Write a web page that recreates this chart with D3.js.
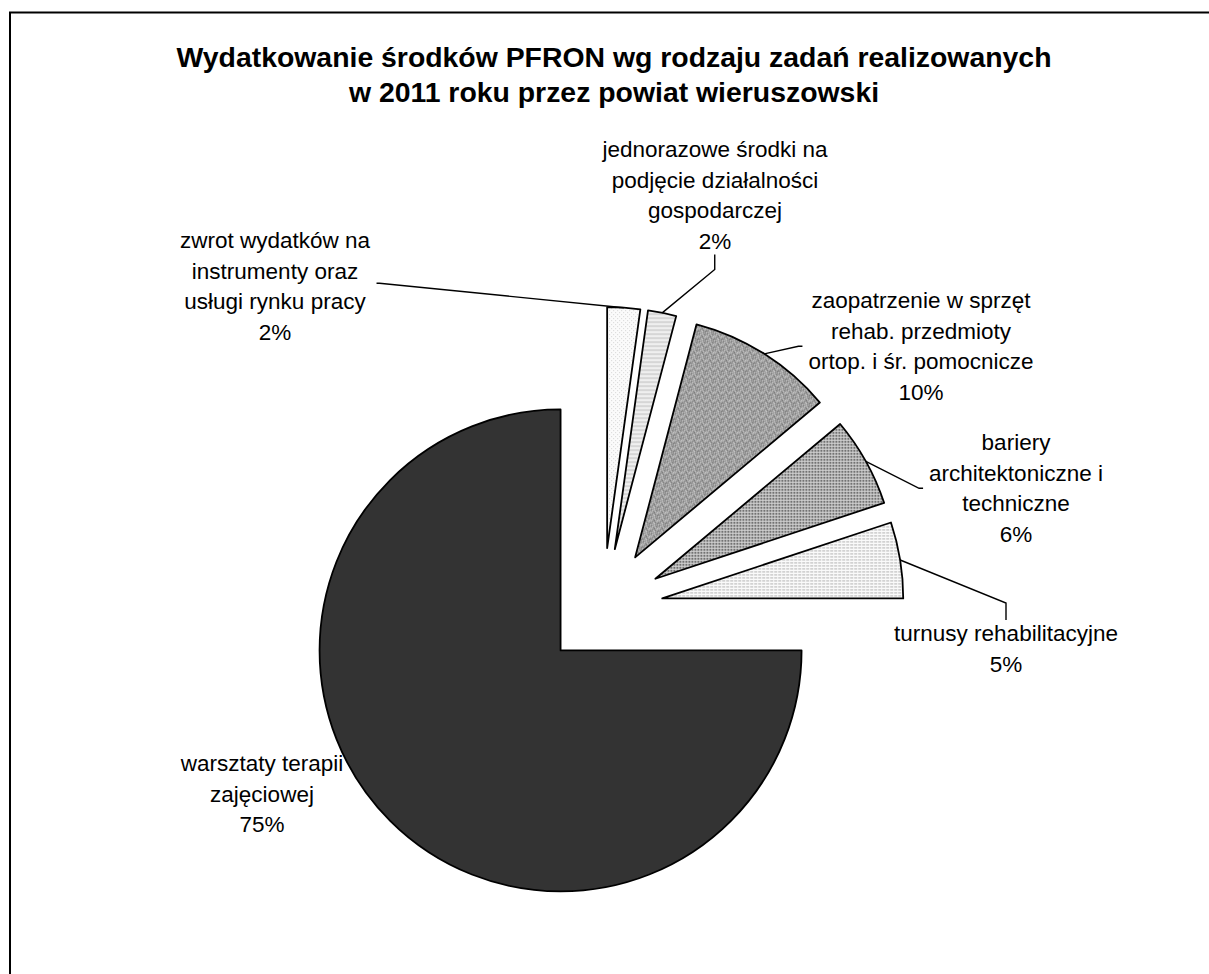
<!DOCTYPE html>
<html lang="pl">
<head>
<meta charset="UTF-8">
<title>Wydatkowanie środków PFRON</title>
<script src="https://cdn.jsdelivr.net/npm/d3@7"></script>
<style>
  body { margin:0; background:#fff; }
  svg text { font-family: "Liberation Sans", Arial, sans-serif; fill:#000; }
  .title { font-weight:bold; font-size:28.4px; }
  .lbl { font-size:22.5px; }
</style>
</head>
<body>
<svg id="chart"></svg>
<script>
  // chart data
  const titleLines = [
    "Wydatkowanie środków PFRON wg rodzaju zadań realizowanych",
    "w 2011 roku przez powiat wieruszowski"
  ];
  const categories = [
    ["zwrot wydatków na", "instrumenty oraz", "usługi rynku pracy"],
    ["jednorazowe środki na", "podjęcie działalności", "gospodarczej"],
    ["zaopatrzenie w sprzęt", "rehab. przedmioty", "ortop. i śr. pomocnicze"],
    ["bariery", "architektoniczne i", "techniczne"],
    ["turnusy rehabilitacyjne"],
    ["warsztaty terapii", "zajęciowej"]
  ];
  const values = [2.2, 1.9, 9.8, 6.0, 5.1, 75.0];

  // layout
  const width = 1209, height = 974;
  const cx = 603, cy = 608, radius = 241, explode = 60;
  const lineH = 30.5;
  // label centre x and first baseline y
  const labelAnchor = [[275, 248], [715, 157], [921, 308], [1016, 450], [1006, 641], [262, 771]];
  const leaderSide = ["right", "bottom", "left", "left", "top", null];
  const fills = ["url(#p-dots)", "url(#p-hstripe)", "url(#p-noise)", "url(#p-grid)", "url(#p-lines)", "#333333"];

  const svg = d3.select("#chart").attr("width", width).attr("height", height);

  // fill patterns (excel style)
  const defs = svg.append("defs");
  const pattern = (id, w, h, bg) => {
    const p = defs.append("pattern").attr("id", id).attr("patternUnits", "userSpaceOnUse").attr("width", w).attr("height", h);
    p.append("rect").attr("width", w).attr("height", h).attr("fill", bg);
    return p;
  };
  const px = (p, list) => list.forEach(([x, y, c, w, h]) =>
    p.append("rect").attr("x", x).attr("y", y).attr("width", w || 1).attr("height", h || 1).attr("fill", c));

  px(pattern("p-dots", 4, 4, "#fbfbfb"), [[0, 0, "#d4d4d4"], [2, 2, "#d4d4d4"]]);
  px(pattern("p-hstripe", 4, 4, "#efefef"), [[0, 0, "#d6d6d6", 4, 2]]);
  px(pattern("p-noise", 8, 8, "#a0a0a0"), [
    [0,0,"#6e6e6e"],[3,0,"#c9c9c9"],[6,0,"#858585"],[1,1,"#d2d2d2"],[5,1,"#727272"],
    [2,2,"#7a7a7a"],[4,2,"#cfcfcf"],[7,2,"#bdbdbd"],[0,3,"#c4c4c4"],[3,3,"#686868"],[6,3,"#d8d8d8"],
    [1,4,"#7f7f7f"],[5,4,"#c2c2c2"],[2,5,"#d0d0d0"],[4,5,"#707070"],[7,5,"#787878"],
    [0,6,"#8a8a8a"],[3,6,"#d6d6d6"],[6,6,"#6c6c6c"],[1,7,"#bcbcbc"],[4,7,"#818181"],[7,7,"#cccccc"]
  ]);
  px(pattern("p-grid", 3, 3, "#d4d4d4"), [[0, 0, "#727272", 2, 2]]);
  px(pattern("p-lines", 4, 3, "#fafafa"), [[0, 0, "#b4b4b4", 3, 1]]);

  // frame (runs off the right and bottom edge)
  svg.append("rect")
    .attr("x", 10).attr("y", 12.5)
    .attr("width", 1300).attr("height", 1000)
    .attr("fill", "#fff").attr("stroke", "#000").attr("stroke-width", 2);

  // title
  svg.append("text")
    .attr("class", "title")
    .attr("text-anchor", "middle")
    .selectAll("tspan")
    .data(titleLines)
    .enter().append("tspan")
    .attr("x", 614)
    .attr("y", (d, i) => 67 + i * 35)
    .text(d => d);

  const total = d3.sum(values);
  const pie = d3.pie().sort(null).value(d => d);
  const arcs = pie(values);
  const arc = d3.arc().innerRadius(0).outerRadius(radius);

  const offset = a => {
    const m = (a.startAngle + a.endAngle) / 2;
    return [cx + explode * Math.sin(m), cy - explode * Math.cos(m)];
  };

  svg.append("g").attr("class", "slices")
    .selectAll("path")
    .data(arcs)
    .enter().append("path")
    .attr("transform", d => "translate(" + offset(d) + ")")
    .attr("d", arc)
    .attr("fill", (d, i) => fills[i])
    .attr("stroke", "#000")
    .attr("stroke-width", 1.8)
    .attr("stroke-linejoin", "round");

  // labels
  const labels = svg.append("g").attr("class", "labels")
    .selectAll("text")
    .data(arcs)
    .enter().append("text")
    .attr("class", "lbl")
    .attr("text-anchor", "middle");
  labels.selectAll("tspan")
    .data((d, i) => categories[i].concat([Math.round(d.value / total * 100) + "%"]).map(t => ({ t: t, i: i })))
    .enter().append("tspan")
    .attr("x", d => labelAnchor[d.i][0])
    .attr("y", (d, j) => labelAnchor[d.i][1] + j * lineH)
    .text(d => d.t);

  // leader lines: label box edge -> short stub -> middle of the slice arc
  const leaders = svg.append("g").attr("class", "leaders");
  labels.each(function (d, i) {
    const side = leaderSide[i];
    if (!side) return;
    const b = this.getBBox();
    const o = offset(d);
    const m = (d.startAngle + d.endAngle) / 2;
    const tip = [o[0] + radius * Math.sin(m), o[1] - radius * Math.cos(m)];
    let p0, p1;
    if (side === "right") { p0 = [b.x + b.width + 6, b.y + b.height / 2 - 3]; p1 = [p0[0] + 3, p0[1]]; }
    if (side === "left") { p0 = [b.x - 6, b.y + b.height / 2]; p1 = [p0[0] - 4, p0[1]]; }
    if (side === "bottom") { p0 = [b.x + b.width / 2, b.y + b.height + 1]; p1 = [p0[0], p0[1] + 15]; }
    if (side === "top") { p0 = [b.x + b.width / 2, b.y - 1]; p1 = [p0[0], p0[1] - 17]; }
    leaders.append("path")
      .attr("d", d3.line()([p0, p1, tip]))
      .attr("fill", "none")
      .attr("stroke", "#000")
      .attr("stroke-width", 1.4);
  });
</script>
</body>
</html>
